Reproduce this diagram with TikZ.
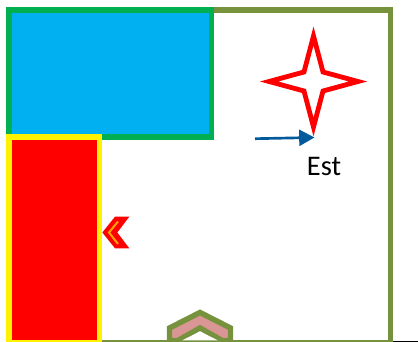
\documentclass[tikz,border=0pt]{standalone}
\usepackage{fontspec}
\setmainfont{Carlito}
\usetikzlibrary{arrows.meta}
\definecolor{olive}{HTML}{76923C}
\definecolor{grn}{HTML}{00B050}
\definecolor{sky}{HTML}{00B0F0}
\definecolor{pinkish}{HTML}{D99694}
\definecolor{arrowblue}{HTML}{005A9C}
\definecolor{amber}{HTML}{FFA500}
\tikzset{
  zone/.style={line width=4.2pt,miter limit=10},
}
\begin{document}
\begin{tikzpicture}[x=0.75pt,y=-0.75pt]
\useasboundingbox (0,0) rectangle (418,342);
\clip (0,0) rectangle (418,342);
% ground line
\draw[black,line width=1.125pt] (393,341.3) -- (418,341.3);
% outer frame
\draw[olive,line width=4.2pt] (390.5,342) -- (390.5,9.75) -- (9,9.75);
\draw[olive,line width=0.5pt] (6.3,9) -- (6.3,140);
\draw[olive,line width=1.4pt] (100,341.2) -- (393,341.2);
% blue zone
\draw[zone,draw=grn,fill=sky] (9,9.75) rectangle (211.5,137);
% red zone
\draw[zone,draw=yellow,fill=red] (9.2,136.8) rectangle (99.3,343.2);
% star
\draw[red,line width=3.6pt,miter limit=10,fill=white]
  (313.5,36) -- (323,72) -- (358,81.5) -- (323,91) -- (313.5,127)
  -- (304,91) -- (269,81.5) -- (304,72) -- cycle;
% arrow
\coordinate (arrowstart) at (255,138.7);
\coordinate (arrowend) at (314.5,137.5);
\draw[arrowblue,line width=2pt,-{Triangle[length=11.5pt,width=12pt]}] (arrowstart) -- (arrowend);
% label
\node[inner sep=0pt,font=\fontsize{21.3}{25}\selectfont] (est) at (324,166.5) {Est};
% left chevron
\fill[red] (102.3,232.5) -- (115,216.7) -- (129.3,216.7) -- (117.3,232.5) -- (129.3,248.3) -- (115,248.3) -- cycle;
\draw[amber,line width=1.5pt] (118,221.5) -- (109,232.5) -- (118,244);
% bottom chevron
\draw[olive,line width=4.1pt,miter limit=10,fill=pinkish]
  (200,312.5) -- (230.5,328) -- (230.5,340.5) -- (222,340.5) -- (200,328)
  -- (178,340.5) -- (169.5,340.5) -- (169.5,328) -- cycle;
\fill[white] (200,331.5) -- (218,340.4) -- (182,340.4) -- cycle;
\end{tikzpicture}
\end{document}
